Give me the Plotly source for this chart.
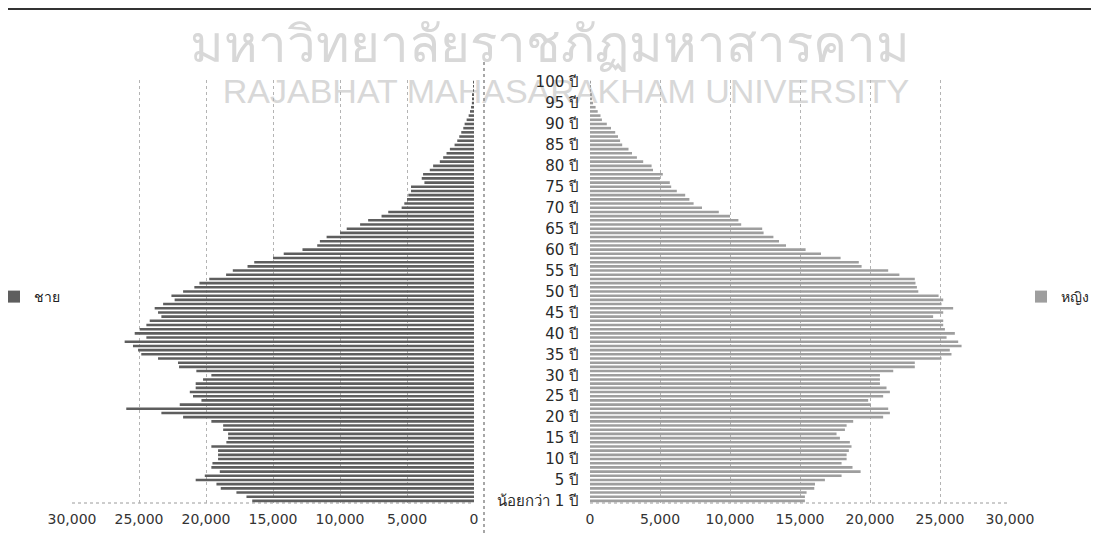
import plotly.graph_objects as go

ages = list(range(101))
age_tick_vals = list(range(0, 101, 5))
age_tick_text = ["น้อยกว่า 1 ปี"] + [f"{a} ปี" for a in range(5, 101, 5)]
x_tick_vals = [0, 5000, 10000, 15000, 20000, 25000, 30000]

male = [16550, 16980, 17730, 18900, 19220, 20770, 20090, 18970, 19600, 19520,
        19100, 19100, 19100, 19600, 18480, 18350, 18350, 18720, 18720, 19600,
        21710, 23330, 25950, 21960, 20340, 20970, 21210, 20770, 20770, 20220,
        19600, 20720, 22010, 22090, 23580, 24830, 25070, 25450, 26070, 24450,
        25320, 24950, 24450, 24200, 23330, 23580, 23830, 23200, 22340, 22580,
        21710, 20870, 20490, 19760, 18500, 18000, 16900, 16400, 15000, 14200,
        12800, 11700, 11500, 11000, 10000, 9500, 8500, 7900, 6900, 6400,
        5400, 5200, 5000, 4900, 4700, 4700, 3700, 3900, 3800, 3300,
        3050, 2550, 2300, 2050, 1800, 1450, 1250, 1100, 950, 800,
        700, 550, 400, 300, 220, 160, 110, 80, 60, 40, 30]

female = [15350, 15350, 15470, 16020, 16070, 16780, 17970, 19330, 18750, 17970,
          18330, 18330, 18490, 18680, 18560, 17850, 17610, 18210, 18330, 18800,
          20940, 21420, 21300, 20060, 19870, 20940, 21420, 21180, 20710, 20710,
          20710, 21660, 23200, 23200, 25110, 25820, 25700, 26540, 26300, 25470,
          26060, 25350, 25230, 25230, 24510, 25230, 25940, 25110, 25230, 24900,
          23450, 23350, 23250, 23200, 22100, 21300, 19400, 19200, 17900, 16500,
          15400, 14000, 13500, 13100, 12400, 12300, 10800, 10600, 10000, 9200,
          8000, 7400, 7100, 6800, 6200, 5800, 5700, 5000, 5200, 4500,
          4400, 3800, 3350, 3000, 2750, 2300, 2150, 2000, 1800, 1500,
          1200, 850, 750, 550, 400, 220, 150, 100, 60, 40, 30]

# the page body adds an 8px offset; size the figure to the visible window
OFF = 8
W, H = 1099 - OFF, 533 - OFF
FONT = "'DejaVu Sans', Tahoma, 'Noto Sans', sans-serif"

def px_x(p):
    return (p - OFF) / W

def px_y(p):
    return 1 - (p - OFF) / H

fig = go.Figure()
fig.add_trace(go.Bar(x=male, y=ages, orientation="h", name="ชาย",
                     marker=dict(color="#5e5e5e", line=dict(width=0)),
                     xaxis="x", yaxis="y", legend="legend"))
fig.add_trace(go.Bar(x=female, y=ages, orientation="h", name="หญิง",
                     marker=dict(color="#9e9e9e", line=dict(width=0)),
                     xaxis="x2", yaxis="y2", legend="legend2"))

ydom = [px_y(503), px_y(80)]
common_x = dict(tickvals=x_tick_vals, tickformat=",", showgrid=True,
                gridcolor="#b4b4b4", griddash="dot", gridwidth=1,
                zeroline=False, showline=False, ticks="", automargin=False,
                ticklabelstandoff=6,
                tickfont=dict(family=FONT, size=14, color="#333333"))

fig.update_layout(
    width=W, height=H,
    margin=dict(l=0, r=0, t=0, b=0, autoexpand=False),
    paper_bgcolor="white", plot_bgcolor="white",
    bargap=0.38,
    showlegend=True,
    xaxis=dict(domain=[px_x(72), px_x(474)], range=[30000, 0], anchor="y", **common_x),
    yaxis=dict(domain=ydom, range=[-0.5, 100.5], anchor="x", showticklabels=False,
               showgrid=False, zeroline=False, showline=False, automargin=False),
    xaxis2=dict(domain=[px_x(590), px_x(1010)], range=[0, 30000], anchor="y2", **common_x),
    yaxis2=dict(domain=ydom, range=[-0.5, 100.5], anchor="x2",
                tickvals=age_tick_vals, ticktext=age_tick_text,
                showgrid=False, zeroline=False, showline=False, ticks="",
                automargin=False, ticklabelstandoff=10,
                tickfont=dict(family=FONT, size=15, color="#2a2a2a")),
    legend=dict(x=px_x(-6), y=px_y(297), xanchor="left", yanchor="middle",
                bgcolor="rgba(0,0,0,0)", itemwidth=30,
                font=dict(family=FONT, size=14, color="#222222")),
    legend2=dict(x=px_x(1021), y=px_y(297), xanchor="left", yanchor="middle",
                 bgcolor="rgba(0,0,0,0)", itemwidth=30,
                 font=dict(family=FONT, size=14, color="#222222")),
)

# bottom dotted frame lines of each plot area
for xr, yr in (("x domain", "y domain"), ("x2 domain", "y2 domain")):
    fig.add_shape(type="line", xref=xr, yref=yr, x0=0, x1=1, y0=0, y1=0,
                  line=dict(color="#9a9a9a", width=1, dash="dot"), layer="below")

# dotted frame of the left chart
fig.add_shape(type="line", xref="paper", yref="paper", x0=px_x(484), x1=px_x(484),
              y0=px_y(62), y1=px_y(533), line=dict(color="#8a8a8a", width=1.5, dash="dot"))
# scan edge at the top
fig.add_shape(type="line", xref="paper", yref="paper", x0=0, x1=1,
              y0=1, y1=1, line=dict(color="#333333", width=4))

# watermark, drawn beneath the chart texts
fig.add_shape(type="rect", xref="paper", yref="paper", layer="below",
              x0=px_x(150), x1=px_x(950), y0=px_y(70), y1=px_y(22),
              line=dict(width=0), fillcolor="rgba(0,0,0,0)",
              label=dict(text="มหาวิทยาลัยราชภัฏมหาสารคาม", textposition="middle center",
                         font=dict(family="'Noto Sans', sans-serif", size=51, color="#d8d8d8")))
fig.add_shape(type="rect", xref="paper", yref="paper", layer="below",
              x0=px_x(166), x1=px_x(966), y0=px_y(106), y1=px_y(70),
              line=dict(width=0), fillcolor="rgba(0,0,0,0)",
              label=dict(text="RAJABHAT MAHASARAKHAM UNIVERSITY", textposition="middle center",
                         font=dict(family="'Liberation Sans Narrow', 'Arial Narrow', 'Liberation Sans', sans-serif",
                                   size=34, color="#d8d8d8")))

fig.write_html("out.html")
